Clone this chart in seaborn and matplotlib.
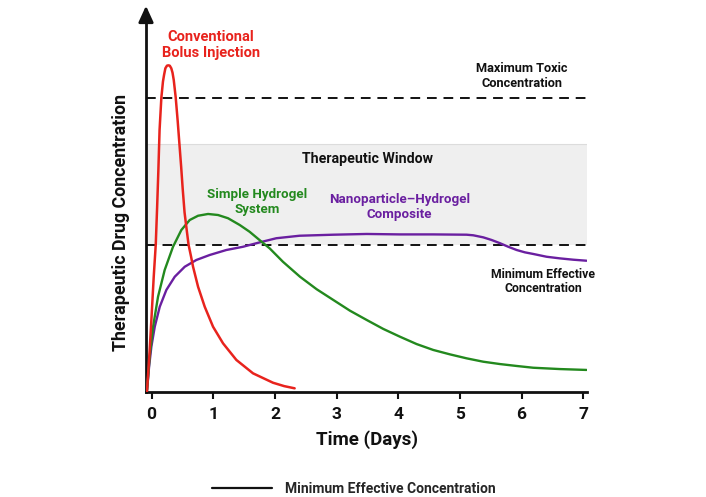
import numpy as np
import pandas as pd
import matplotlib
matplotlib.use("Agg")
import matplotlib.pyplot as plt
from matplotlib.lines import Line2D
import seaborn as sns

# ---------------- data ----------------
bolus_days = [-0.075, -0.035, 0.0, 0.035, 0.068, 0.09, 0.11, 0.13, 0.159, 0.185,
              0.203, 0.224, 0.25, 0.272, 0.295, 0.32, 0.34, 0.36, 0.392, 0.424,
              0.451, 0.48, 0.505, 0.535, 0.57, 0.60, 0.64, 0.673, 0.754, 0.862,
              0.997, 1.159, 1.375, 1.645, 1.969, 2.15, 2.32]
bolus_conc = [0, 25, 51, 78, 100, 125, 150, 178, 200, 211,
              215.5, 220, 221.8, 222, 221.8, 220, 217, 212, 200, 184,
              169, 153, 138, 122, 110, 100, 92, 85, 71.4, 57.8,
              44.2, 32.9, 21.6, 12.5, 6.1, 3.8, 2.3]

hydrogel_days = [-0.073, -0.03, 0.024, 0.105, 0.213, 0.348, 0.483, 0.619, 0.754,
                 0.916, 1.078, 1.24, 1.43, 1.59, 1.75, 1.915, 2.13, 2.407, 2.677,
                 2.947, 3.217, 3.488, 3.757, 4.028, 4.298, 4.567, 4.838, 5.108,
                 5.378, 5.65, 5.92, 6.188, 6.62, 7.053]
hydrogel_conc = [1, 24, 44, 64.6, 82.8, 98.6, 110, 116.8, 119.7,
                 120.9, 120.2, 118, 113.4, 108.8, 103.2, 97.5, 88.4, 78.2, 69.7,
                 62.4, 55.1, 48.8, 42.7, 37.4, 32.4, 28.4, 25.4, 22.7,
                 20.4, 18.8, 17.5, 16.3, 15.4, 14.8]

composite_days = [-0.073, -0.04, -0.003, 0.052, 0.133, 0.24, 0.376, 0.538, 0.726,
                  0.943, 1.213, 1.483, 1.754, 2.023, 2.40, 2.947, 3.488, 4.03,
                  4.567, 5.108, 5.216, 5.378, 5.514, 5.65, 5.783, 5.919, 6.053,
                  6.188, 6.405, 6.62, 6.836, 7.053]
composite_conc = [1, 17, 30.6, 44.2, 57.8, 69.2, 78.2, 85, 89.6,
                  93, 96.4, 98.6, 101.6, 104.4, 106.1, 106.8, 107.3, 107,
                  107, 106.8, 106.4, 105, 103.2, 101, 98.6, 96.4, 94.8,
                  93.7, 91.8, 90.7, 89.8, 89.1]

min_effective = 100
max_toxic = 200
window_top = 168.5

x_ticks = [0, 1, 2, 3, 4, 5, 6, 7]

# ---------------- style ----------------
sns.set_theme(style="white")
plt.rcParams["font.family"] = ["Roboto", "DejaVu Sans"]

RED = "#e8231d"
GREEN = "#23891e"
PURPLE = "#6a1fa0"
INK = "#111111"

fig = plt.figure(figsize=(7.06, 4.97), dpi=100)
ax = fig.add_axes([146 / 706, 1 - 391.7 / 497, (587 - 146) / 706, (391.7 - 13) / 497])

ax.set_xlim(-0.09, 7.06)
ax.set_ylim(0, (391.7 - 13) / 1.47)

# therapeutic window band
ax.axhspan(min_effective, window_top, color="#efefef", zorder=0, lw=0)
ax.axhline(window_top, color="#dcdcdc", lw=0.8, zorder=0.5)

# threshold lines
ax.axhline(max_toxic, color=INK, lw=1.4, ls=(0, (5, 3.5)), zorder=1)
ax.axhline(min_effective, color=INK, lw=1.4, ls=(0, (5, 3.5)), zorder=1)

# curves
line_kw = dict(sort=False, estimator=None, solid_joinstyle="round", solid_capstyle="round")
sns.lineplot(x=composite_days, y=composite_conc, ax=ax, color=PURPLE, lw=1.7, zorder=3, **line_kw)
sns.lineplot(x=hydrogel_days, y=hydrogel_conc, ax=ax, color=GREEN, lw=1.7, zorder=3, **line_kw)
sns.lineplot(x=bolus_days, y=bolus_conc, ax=ax, color=RED, lw=1.8, zorder=4, **line_kw)

# axes
for s in ["top", "right"]:
    ax.spines[s].set_visible(False)
for s in ["left", "bottom"]:
    ax.spines[s].set_linewidth(2.0)
    ax.spines[s].set_color(INK)
ax.set_yticks([])
ax.set_xticks(x_ticks)
ax.set_xticklabels([str(t) for t in x_ticks], fontsize=12.5, fontweight="bold")
ax.tick_params(axis="x", direction="out", length=5, width=1.5, color=INK,
               pad=6, labelcolor=INK, bottom=True)
ax.set_xlabel("Time (Days)", fontsize=13.5, fontweight="bold", labelpad=6, color=INK)
ax.set_ylabel("Therapeutic Drug Concentration", fontsize=12.8, fontweight="bold", color=INK)
ax.yaxis.set_label_coords(-0.037, 0.448)

# arrow head on the y axis
ax.annotate("", xy=(0, 1 + 10 / 378.7), xytext=(0, 0.97), xycoords="axes fraction",
            arrowprops=dict(arrowstyle="-|>,head_length=0.7,head_width=0.32",
                            color=INK, lw=2.0, mutation_scale=14),
            annotation_clip=False, zorder=6)

# annotations
ax.text(0.96, 235.8, "Conventional\nBolus Injection", color=RED, fontsize=10.5,
        fontweight="bold", ha="center", va="center", linespacing=1.15)
ax.text(6.0, 214.8, "Maximum Toxic\nConcentration", color=INK, fontsize=9.2,
        fontweight="bold", ha="center", va="center", linespacing=1.15)
ax.text(3.5, 158, "Therapeutic Window", color=INK, fontsize=10.2,
        fontweight="bold", ha="center", va="center")
ax.text(1.71, 129, "Simple Hydrogel\nSystem", color=GREEN, fontsize=9.6,
        fontweight="bold", ha="center", va="center", linespacing=1.15)
ax.text(4.02, 125.5, "Nanoparticle\u2013Hydrogel\nComposite", color=PURPLE, fontsize=9.6,
        fontweight="bold", ha="center", va="center", linespacing=1.15)
ax.text(6.35, 75, "Minimum Effective\nConcentration", color=INK, fontsize=8.8,
        fontweight="bold", ha="center", va="center", linespacing=1.15)

# bottom legend
handle = Line2D([], [], color=INK, lw=1.6)
ax.legend([handle], ["Minimum Effective Concentration"], loc="center left",
          bbox_to_anchor=(212 / 706, 1 - 489 / 497), bbox_transform=fig.transFigure,
          frameon=False, handlelength=4.3, handletextpad=0.95, borderpad=0,
          borderaxespad=0, prop={"size": 10, "weight": "bold"})

fig.savefig("out.png", dpi=100)
